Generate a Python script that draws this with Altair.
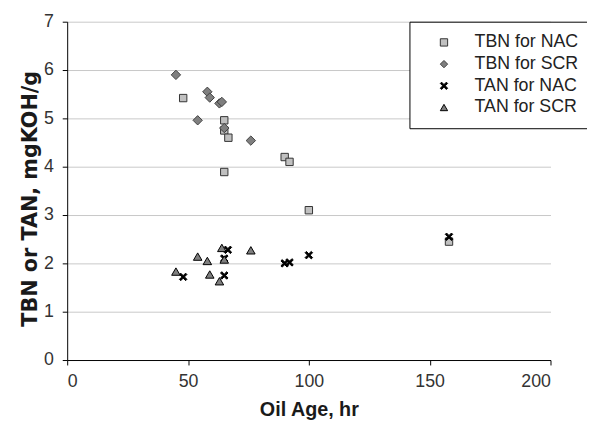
import altair as alt
import pandas as pd

series = ["TBN for NAC", "TBN for SCR", "TAN for NAC", "TAN for SCR"]

tbn_nac_age = [48, 65, 65, 66.7, 65, 90, 92, 100, 158]
tbn_nac_val = [5.42, 4.96, 4.75, 4.60, 3.89, 4.20, 4.10, 3.10, 2.45]

tbn_scr_age = [45, 54, 58, 59, 63, 64, 65, 76]
tbn_scr_val = [5.90, 4.96, 5.55, 5.43, 5.31, 5.34, 4.80, 4.54]

tan_nac_age = [48, 65, 65, 66.5, 90, 92, 100, 158]
tan_nac_val = [1.72, 1.75, 2.10, 2.28, 2.00, 2.02, 2.17, 2.55]

tan_scr_age = [45, 54, 58, 59, 63, 64, 65, 76]
tan_scr_val = [1.83, 2.14, 2.05, 1.77, 1.63, 2.32, 2.08, 2.27]

x_ticks = [0, 50, 100, 150, 200]
y_ticks = [0, 1, 2, 3, 4, 5, 6, 7]

rows = []
for name, ages, vals in [
    (series[0], tbn_nac_age, tbn_nac_val),
    (series[1], tbn_scr_age, tbn_scr_val),
    (series[2], tan_nac_age, tan_nac_val),
    (series[3], tan_scr_age, tan_scr_val),
]:
    for a, v in zip(ages, vals):
        rows.append({"series": name, "age": a, "value": v})
df = pd.DataFrame(rows)

X_PATH = ("M-1,-0.65L-0.65,-1L0,-0.35L0.65,-1L1,-0.65L0.35,0L1,0.65"
          "L0.65,1L0,0.35L-0.65,1L-1,0.65L-0.35,0Z")
shapes = ["square", "diamond", X_PATH, "triangle-up"]
fills = ["#c0c0c0", "#7f7f7f", "#000000", "#7f7f7f"]
strokes = ["#333333", "#404040", "#000000", "#000000"]
sizes = [56, 90, 58, 75]

FONT = "Liberation Sans"

base = alt.Chart(df).encode(
    x=alt.X("age:Q", title="Oil Age, hr",
            scale=alt.Scale(domain=[0, 200], nice=False),
            axis=alt.Axis(values=x_ticks, grid=False, titleY=50,
                          titleBaseline="middle")),
    y=alt.Y("value:Q", title="TBN or TAN, mgKOH/g",
            scale=alt.Scale(domain=[0, 7], nice=False),
            axis=alt.Axis(values=y_ticks, grid=True, titleX=-37,
                          titleY=179, titleBaseline="middle",
                          titleAlign="center")),
    shape=alt.Shape("series:N", scale=alt.Scale(domain=series, range=shapes), title=None),
    fill=alt.Fill("series:N", scale=alt.Scale(domain=series, range=fills), title=None),
    stroke=alt.Stroke("series:N", scale=alt.Scale(domain=series, range=strokes), title=None),
)

layers = []
for s, sz in zip(series, sizes):
    layers.append(
        base.transform_filter(alt.datum.series == s).mark_point(
            filled=True, size=sz, strokeWidth=1, opacity=1
        )
    )

chart = alt.layer(*layers).properties(
    width=490,
    height=343,
    autosize=alt.AutoSizeParams(type="none"),
    padding={"left": 60, "top": 11, "right": 37, "bottom": 65},
).configure_view(
    stroke=None
).configure_axis(
    domainColor="#000000",
    domainWidth=1,
    tickColor="#000000",
    tickSize=5,
    gridColor="#c8c8c8",
    gridWidth=1,
    labelFont=FONT,
    labelFontSize=18,
    labelColor="#333333",
    titleFontWeight="bold",
    titleColor="#1a1a1a",
).configure_axisY(
    labelPadding=9,
    titleFont="DejaVu Sans",
    titleFontSize=21,
).configure_axisX(
    labelPadding=8,
    titleFont=FONT,
    titleFontSize=20,
).configure_legend(
    orient="none",
    legendX=347,
    legendY=0,
    strokeColor="#000000",
    fillColor="#ffffff",
    padding=12,
    symbolOffset=14,
    symbolSize=55,
    symbolStrokeWidth=1,
    labelOffset=22,
    labelFont=FONT,
    labelFontSize=18,
    labelColor="#222222",
    rowPadding=4,
)

chart.save("out.html", embed_options={"renderer": "svg", "actions": False})
